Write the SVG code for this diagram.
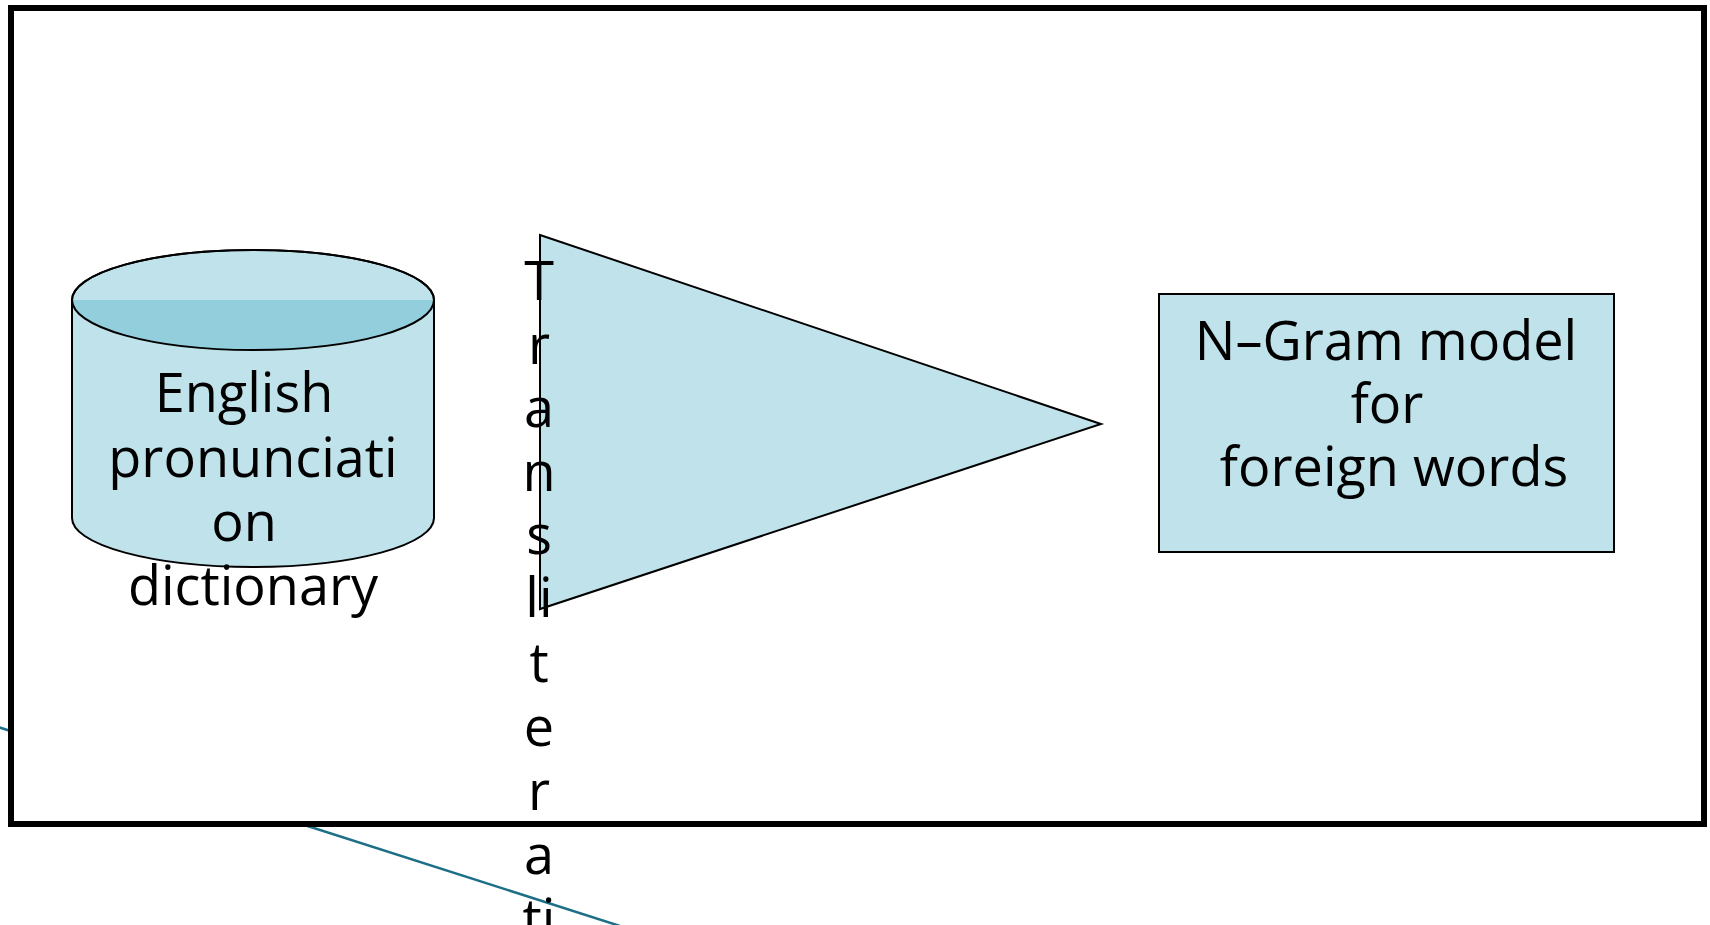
<svg xmlns="http://www.w3.org/2000/svg" width="1710" height="925" viewBox="0 0 1710 925">
<style>
.shape{fill:#c0e2ea;stroke:#000;stroke-width:2}
.lbl{font-family:"Open Sans","DejaVu Sans",sans-serif;font-size:54px;fill:#000;text-anchor:middle}
.conn{stroke:#1c6f87;stroke-width:2.5;fill:none}
</style>
<g id="connectors">
<line class="conn" x1="-5" y1="726" x2="720" y2="958"/>
</g>
<rect id="frame" x="11" y="8" width="1693" height="816" fill="#fff" stroke="#000" stroke-width="6"/>
<g id="dictionary">
<path class="shape" d="M72,300 L72,518 A181,49 0 0 0 434,518 L434,300 A181,50 0 0 0 72,300 Z"/>
<path d="M72,300 A181,50 0 0 0 434,300 Z" fill="#93cedd" stroke="none"/>
<ellipse cx="253" cy="300" rx="181" ry="50" fill="none" stroke="#000" stroke-width="2"/>
<text class="lbl"><tspan x="244" y="412">English</tspan><tspan x="253" y="477">pronunciati</tspan><tspan x="244" y="541">on</tspan><tspan x="253" y="605">dictionary</tspan></text>
</g>
<g id="transliteration">
<polygon class="shape" points="540,235 1101,424 540,609"/>
<text class="lbl"><tspan x="539" y="300">T</tspan><tspan x="539" y="364">r</tspan><tspan x="539" y="427">a</tspan><tspan x="539" y="491">n</tspan><tspan x="539" y="554">s</tspan><tspan x="539" y="617">li</tspan><tspan x="539" y="682">t</tspan><tspan x="539" y="746">e</tspan><tspan x="539" y="810">r</tspan><tspan x="539" y="874">a</tspan><tspan x="539" y="938">ti</tspan></text>
</g>
<g id="ngram">
<rect class="shape" x="1159" y="294" width="455" height="258"/>
<text class="lbl"><tspan x="1386" y="360">N–Gram model</tspan><tspan x="1387" y="423">for</tspan><tspan x="1394" y="486">foreign words</tspan></text>
</g>
</svg>
